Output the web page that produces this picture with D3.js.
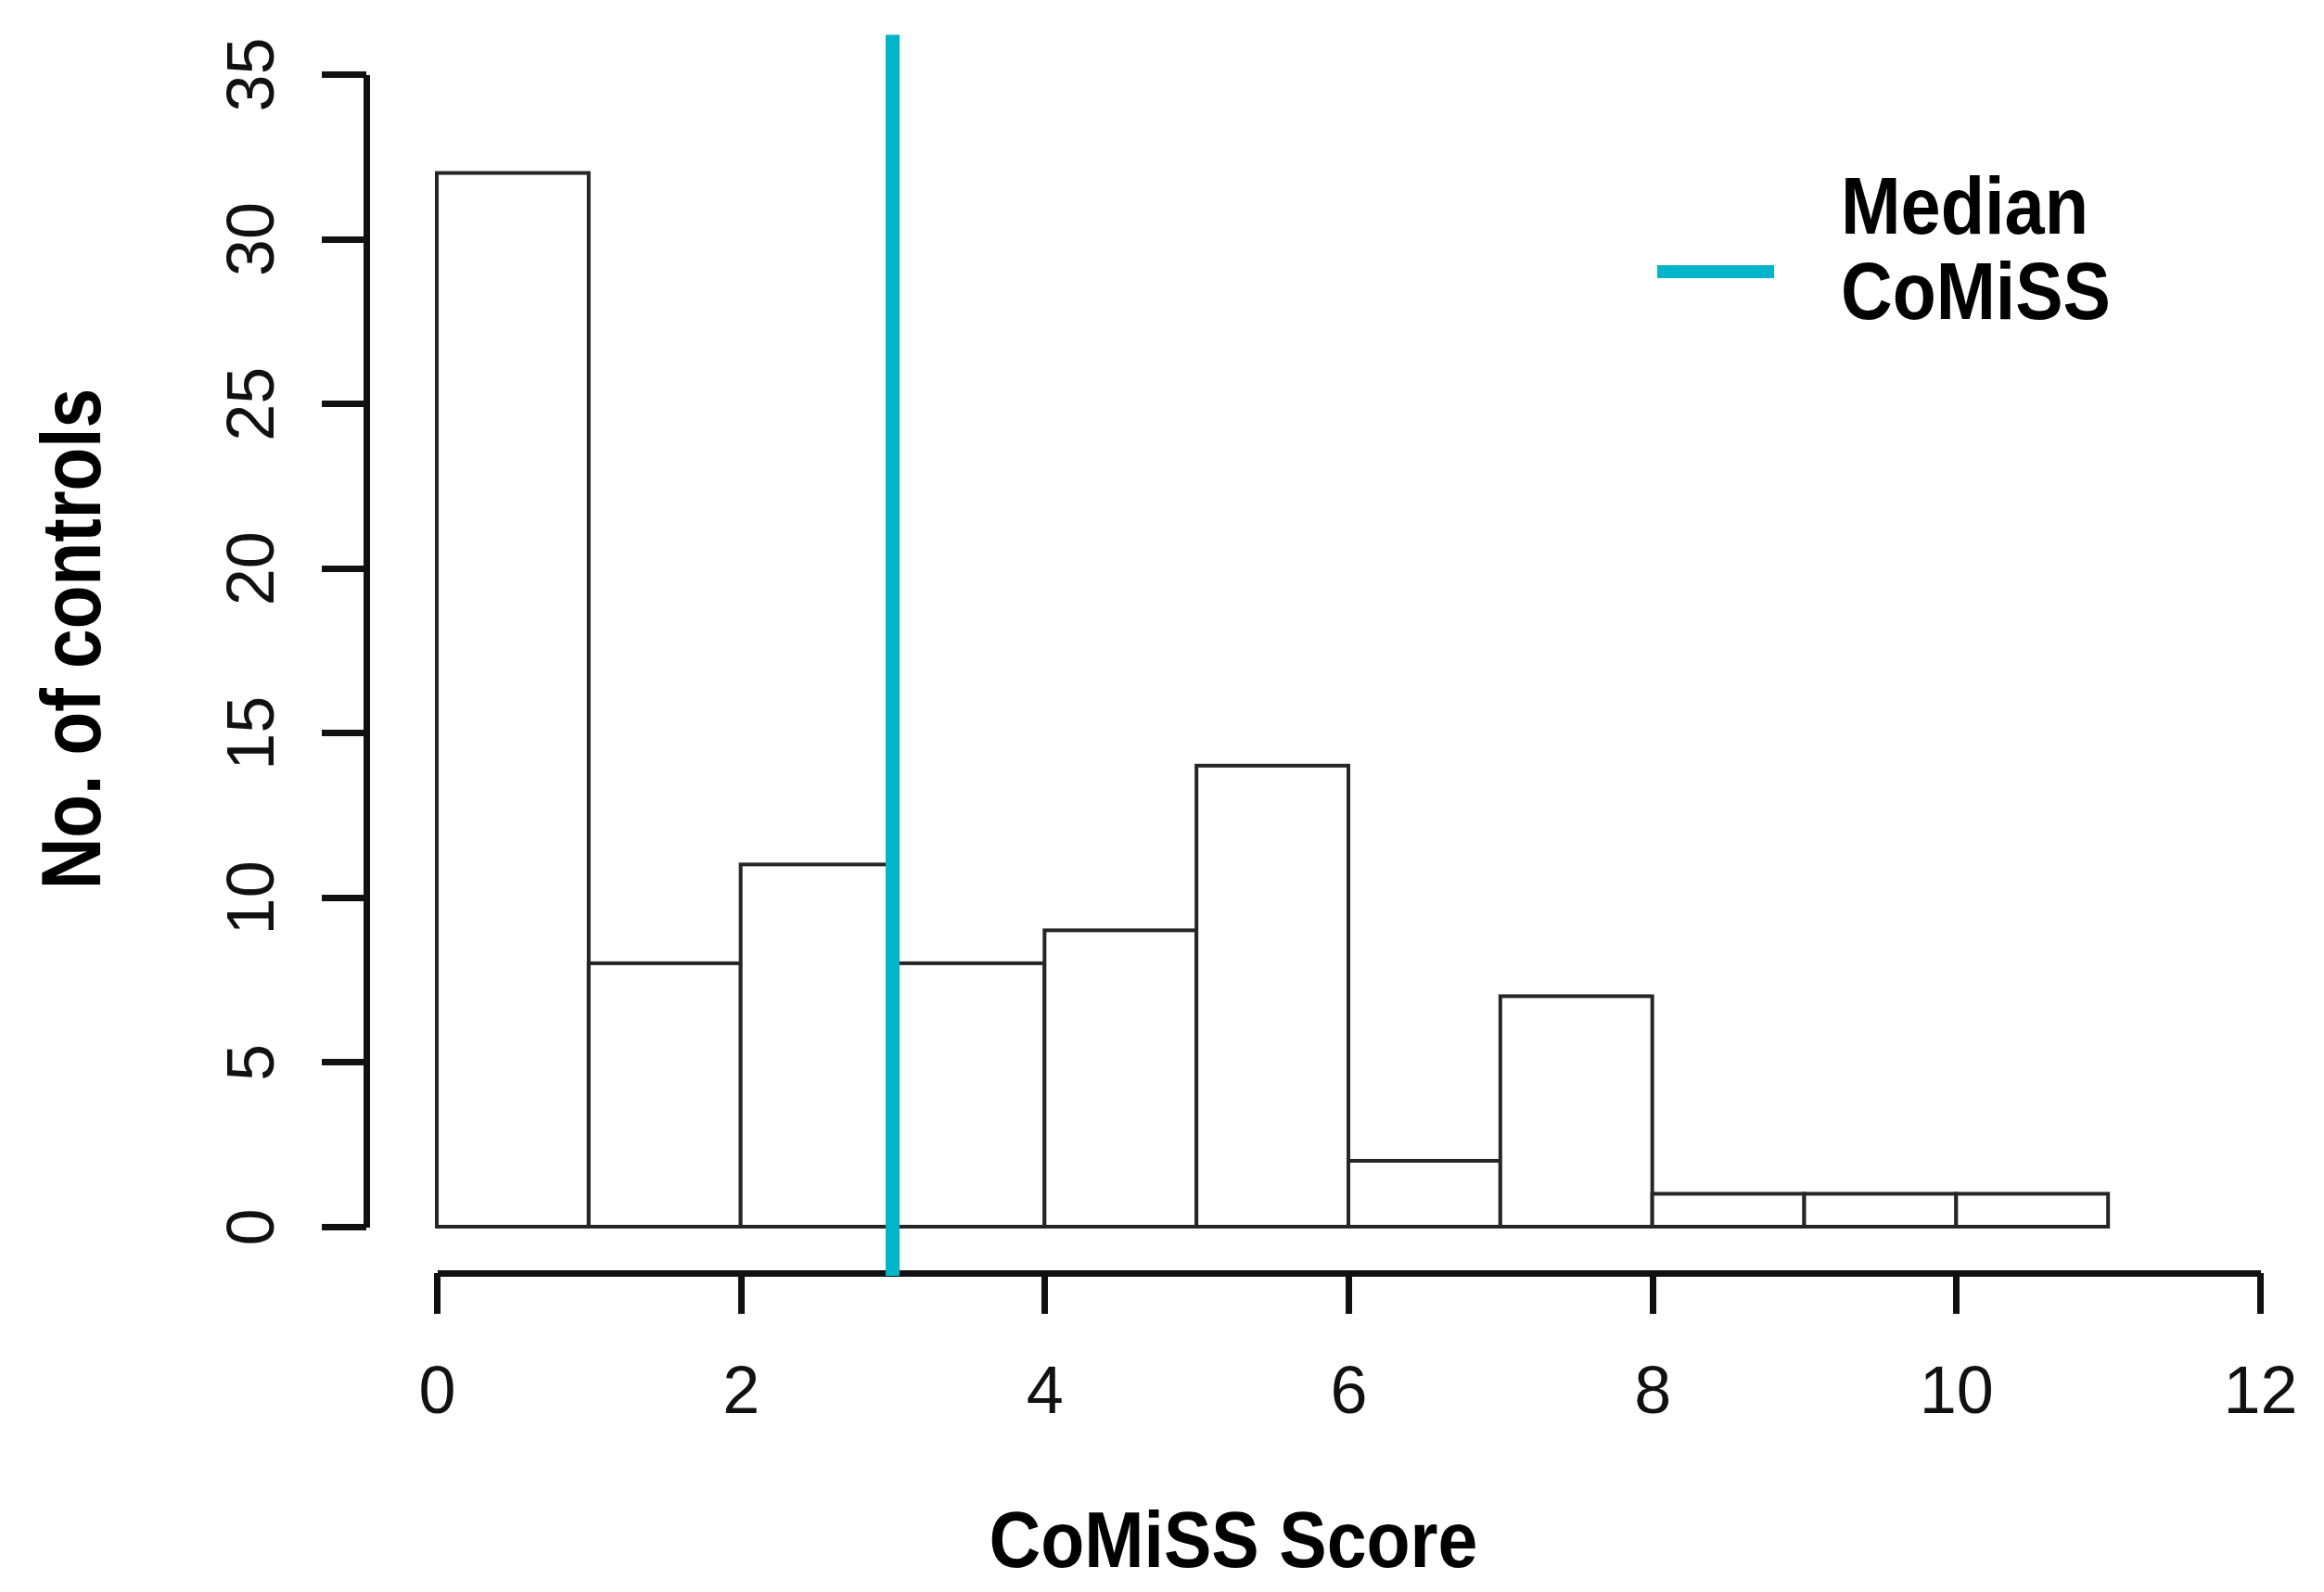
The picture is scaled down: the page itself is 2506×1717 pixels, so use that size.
<!DOCTYPE html>
<html>
<head>
<meta charset="utf-8">
<script src="https://cdn.jsdelivr.net/npm/d3@7"></script>
<style>
  html, body { margin: 0; padding: 0; background: #ffffff; }
  svg { display: block; }
</style>
</head>
<body>
<script>
// ---- data ----
const binStarts = [0, 1, 2, 3, 4, 5, 6, 7, 8, 9, 10];
const binEnds   = [1, 2, 3, 4, 5, 6, 7, 8, 9, 10, 11];
const counts    = [32, 8, 11, 8, 9, 14, 2, 7, 1, 1, 1];
const xTicks = [0, 2, 4, 6, 8, 10, 12];
const yTicks = [0, 5, 10, 15, 20, 25, 30, 35];
const medianScore = 3;
const medianLineTop = 36.2;
const xTitle = "CoMiSS Score";
const yTitle = "No. of controls";
const legendLines = ["Median", "CoMiSS"];

// ---- layout ----
const W = 2506, H = 1717;
const svg = d3.select("body").append("svg").attr("width", W).attr("height", H);
svg.append("rect").attr("width", W).attr("height", H).attr("fill", "#ffffff");

const x = d3.scaleLinear().domain([0, 12]).range([471, 2437]);
const y = d3.scaleLinear().domain([0, 35]).range([1323, 80]);

const FONT = "'Liberation Sans', Arial, Helvetica, sans-serif";
const axisColor = "#111";

// bars
const bins = binStarts.map((s, i) => ({ s, e: binEnds[i], c: counts[i] }));
svg.append("g").selectAll("rect").data(bins).join("rect")
  .attr("x", d => x(d.s))
  .attr("y", d => y(d.c))
  .attr("width", d => x(d.e) - x(d.s))
  .attr("height", d => y(0) - y(d.c))
  .attr("fill", "#ffffff")
  .attr("stroke", "#262626")
  .attr("stroke-width", 4);

// y axis
const yAxisG = svg.append("g").attr("transform", "translate(395,0)")
  .call(d3.axisLeft(y).tickValues(yTicks).tickSize(48).tickSizeOuter(0).tickFormat(d3.format("d")));
yAxisG.select(".domain").attr("stroke", axisColor).attr("stroke-width", 7);
yAxisG.selectAll(".tick line").attr("stroke", axisColor).attr("stroke-width", 7);
yAxisG.selectAll(".tick text")
  .attr("x", null).attr("dy", null).attr("y", null)
  .attr("transform", "translate(-100,0) rotate(-90)")
  .attr("text-anchor", "middle")
  .attr("font-family", FONT).attr("font-size", 72).attr("fill", "#111");

// x axis
const xAxisG = svg.append("g").attr("transform", "translate(0,1373)")
  .call(d3.axisBottom(x).tickValues(xTicks).tickSize(44).tickSizeOuter(0).tickFormat(d3.format("d")));
xAxisG.select(".domain").attr("stroke", axisColor).attr("stroke-width", 7);
xAxisG.selectAll(".tick line").attr("stroke", axisColor).attr("stroke-width", 7);
xAxisG.selectAll(".tick text")
  .attr("y", 151).attr("dy", null)
  .attr("font-family", FONT).attr("font-size", 72).attr("fill", "#111");
svg.selectAll(".domain, .tick line").attr("shape-rendering", "crispEdges");
svg.selectAll("g").attr("font-size", null).attr("font-family", null);

// median line
svg.append("line")
  .attr("x1", x(medianScore)).attr("x2", x(medianScore))
  .attr("y1", y(medianLineTop)).attr("y2", 1376)
  .attr("stroke", "#00b5c9").attr("stroke-width", 15);

// axis titles
svg.append("text")
  .attr("x", 1330).attr("y", 1690)
  .attr("text-anchor", "middle")
  .attr("font-family", FONT).attr("font-weight", "bold").attr("font-size", 86)
  .attr("textLength", 527).attr("lengthAdjust", "spacingAndGlyphs")
  .attr("fill", "#000").text(xTitle);

svg.append("text")
  .attr("transform", "translate(108,689) rotate(-90)")
  .attr("text-anchor", "middle")
  .attr("font-family", FONT).attr("font-weight", "bold").attr("font-size", 90)
  .attr("textLength", 540).attr("lengthAdjust", "spacingAndGlyphs")
  .attr("fill", "#000").text(yTitle);

// legend
svg.append("line")
  .attr("x1", 1787).attr("x2", 1913).attr("y1", 293).attr("y2", 293)
  .attr("stroke", "#00b5c9").attr("stroke-width", 14);
const legendWidths = [267, 291];
const legendBaselines = [252, 344];
legendLines.forEach((t, i) => {
  svg.append("text")
    .attr("x", 1985).attr("y", legendBaselines[i])
    .attr("font-family", FONT).attr("font-weight", "bold").attr("font-size", 88)
    .attr("textLength", legendWidths[i]).attr("lengthAdjust", "spacingAndGlyphs")
    .attr("fill", "#000").text(t);
});
</script>
</body>
</html>
